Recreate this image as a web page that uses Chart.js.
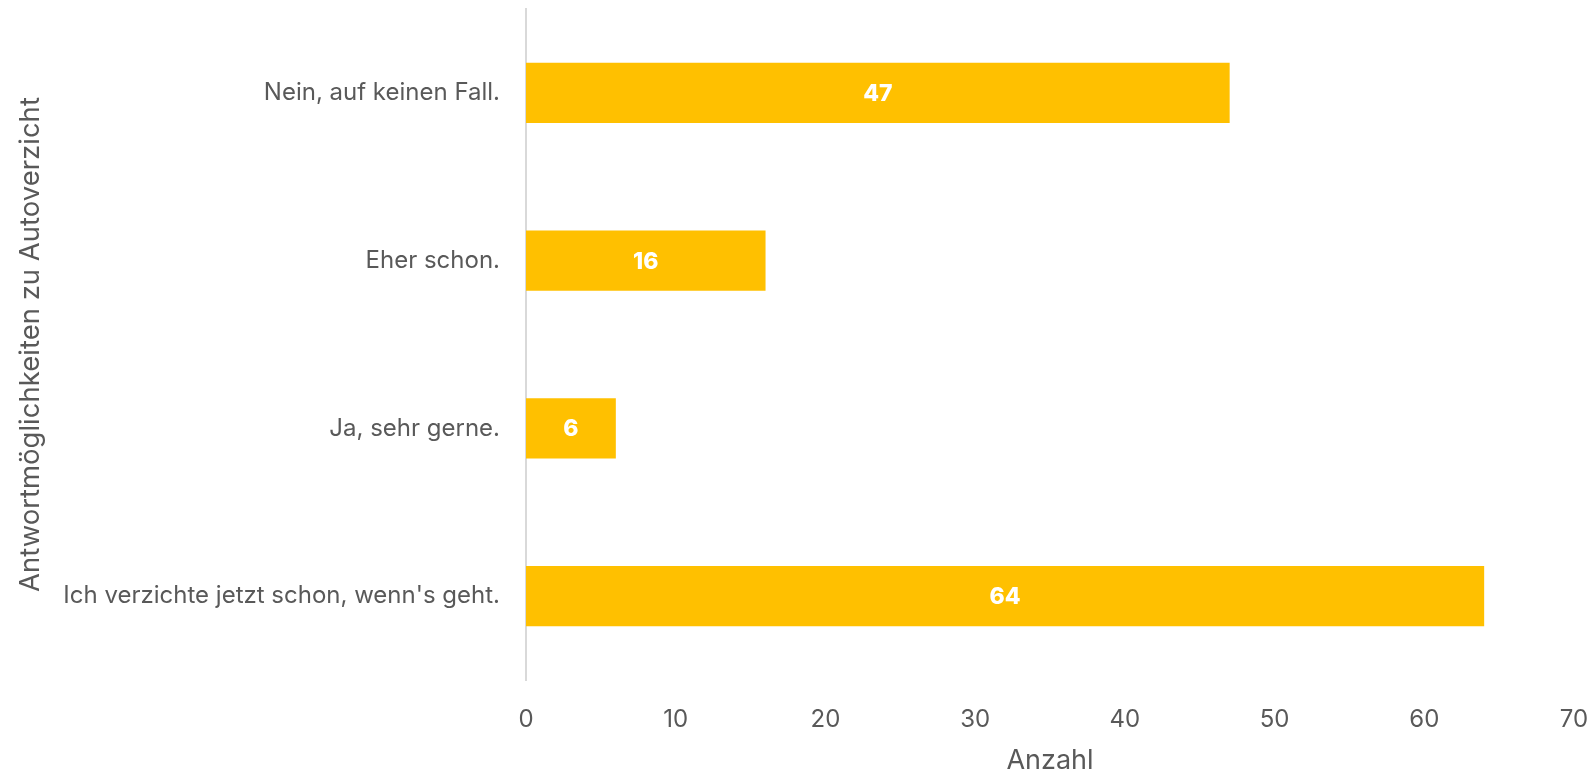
<!DOCTYPE html>
<html>
<head>
<meta charset="utf-8">
<script src="https://cdn.jsdelivr.net/npm/chart.js@4"></script>
<style>
  html, body { margin: 0; padding: 0; background: #fff; }
  #wrap { width: 1592px; height: 777px; }
</style>
</head>
<body>
<div id="wrap"><canvas id="myChart"></canvas></div>
<script>
const antworten = [
    "Nein, auf keinen Fall.",
    "Eher schon.",
    "Ja, sehr gerne.",
    "Ich verzichte jetzt schon, wenn's geht."
];
const anzahl = [47, 16, 6, 64];
const xTicks = [0, 10, 20, 30, 40, 50, 60, 70];

const textFarbe = "#595959";
const schrift = "Inter, 'Open Sans', sans-serif";

// Werte mittig in die Balken schreiben
const balkenWerte = {
    id: "balkenWerte",
    afterDatasetsDraw(chart) {
        const ctx = chart.ctx;
        const meta = chart.getDatasetMeta(0);
        ctx.save();
        ctx.fillStyle = "#ffffff";
        ctx.font = "800 23px " + schrift;
        ctx.textAlign = "center";
        ctx.textBaseline = "middle";
        meta.data.forEach((bar, i) => {
            const mitte = (bar.x + bar.base) / 2;
            ctx.fillText(String(anzahl[i]), mitte, bar.y + 1);
        });
        ctx.restore();
    }
};

const config = {
    type: "bar",
    data: {
        labels: antworten,
        datasets: [{
            data: anzahl,
            backgroundColor: "#FFC000",
            borderWidth: 0,
            categoryPercentage: 1,
            barPercentage: 0.358
        }]
    },
    options: {
        indexAxis: "y",
        responsive: true,
        maintainAspectRatio: false,
        animation: false,
        layout: { padding: { left: 0, right: 18, top: 9, bottom: 0 } },
        plugins: {
            legend: { display: false },
            tooltip: { enabled: false }
        },
        scales: {
            x: {
                min: 0,
                max: 70,
                afterBuildTicks: (scale) => {
                    scale.ticks = xTicks.map(v => ({ value: v }));
                },
                afterFit: (scale) => {
                    scale.height = 97;
                    scale.paddingLeft = 0;
                    scale.paddingRight = 0;
                },
                grid: { display: false },
                border: { display: false },
                ticks: {
                    color: textFarbe,
                    padding: 17,
                    font: { family: schrift, size: 24 }
                },
                title: {
                    display: true,
                    text: "Anzahl",
                    color: textFarbe,
                    padding: { top: 0, bottom: 0 },
                    font: { family: schrift, size: 27 }
                }
            },
            y: {
                afterFit: (scale) => {
                    scale.width = 526;
                    scale.paddingTop = 0;
                    scale.paddingBottom = 0;
                },
                grid: { display: false },
                border: { display: true, color: "#d9d9d9", width: 2 },
                ticks: {
                    color: textFarbe,
                    padding: 18,
                    font: { family: schrift, size: 24 }
                },
                title: {
                    display: true,
                    text: "Antwortmöglichkeiten zu Autoverzicht",
                    color: textFarbe,
                    padding: { top: 14, bottom: 0 },
                    font: { family: schrift, size: 27.5 }
                }
            }
        }
    },
    plugins: [balkenWerte]
};

const ctx = document.getElementById("myChart").getContext("2d");
const myChart = new Chart(ctx, config);
</script>
</body>
</html>
